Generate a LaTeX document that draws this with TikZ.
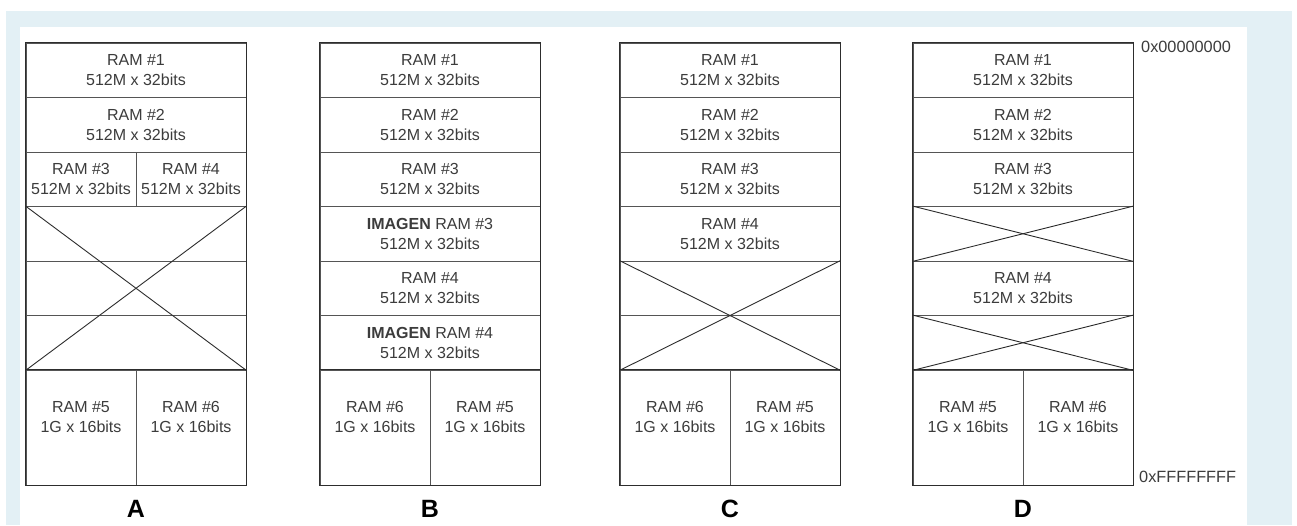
\documentclass[tikz,border=0pt]{standalone}
\usepackage{fontspec}
\setmainfont{Liberation Sans}
\definecolor{bgblue}{RGB}{227,240,245}
\definecolor{linec}{RGB}{85,85,85}
\definecolor{darkline}{RGB}{45,45,45}
\definecolor{txtc}{RGB}{60,60,60}
\begin{document}
\begin{tikzpicture}[x=1pt,y=-1pt,
  cell/.style={draw=linec, line width=0.8pt, minimum width=220pt, minimum height=54.5pt, inner sep=0pt,
    text=txtc, align=center, font=\fontsize{16}{20}\selectfont},
  half/.style={cell, minimum width=110pt},
  low/.style={cell, minimum width=110pt, minimum height=115pt},
  txt/.style={text=txtc, align=center, inner sep=0pt, font=\fontsize{16}{20}\selectfont},
  outer/.style={draw=darkline, line width=1.1pt},
  crossl/.style={draw=darkline, line width=0.9pt},
  colname/.style={font=\fontsize{25}{25}\selectfont\bfseries, text=black, inner sep=0pt},
  addr/.style={font=\fontsize{16.3}{18}\selectfont, text=txtc, inner sep=0pt, anchor=west}]
\useasboundingbox (0,0) rectangle (1297,525);
\fill[white] (0,0) rectangle (1297,525);
\fill[bgblue] (6,11) rectangle (1292,525);
\fill[white] (20,27) rectangle (1247,525);

% ---------- A ----------
\node[cell] (a1) at (136,70.25) {RAM \#1\\512M x 32bits};
\node[cell] (a2) at (136,124.75) {RAM \#2\\512M x 32bits};
\node[half] (a3) at (81,179.25) {RAM \#3\\512M x 32bits};
\node[half] (a4) at (191,179.25) {RAM \#4\\512M x 32bits};
\node[cell] (ax1) at (136,233.75) {};
\node[cell] (ax2) at (136,288.25) {};
\node[cell] (ax3) at (136,342.75) {};
\node[low] (a5) at (81,427.5) {};
\node[low] (a6) at (191,427.5) {};
\node[txt] (a5t) at ([yshift=-47pt]a5.north) {RAM \#5\\1G x 16bits};
\node[txt] (a6t) at ([yshift=-47pt]a6.north) {RAM \#6\\1G x 16bits};
\draw[crossl] (ax1.north west) -- (ax3.south east);
\draw[crossl] (ax1.north east) -- (ax3.south west);
\draw[outer] (a5.north west) -- (a6.north east);
\draw[outer] (a1.north west) rectangle (a6.south east);
\node[colname] (la) at (136,509) {A};

% ---------- B ----------
\node[cell] (b1) at (430,70.25) {RAM \#1\\512M x 32bits};
\node[cell] (b2) at (430,124.75) {RAM \#2\\512M x 32bits};
\node[cell] (b3) at (430,179.25) {RAM \#3\\512M x 32bits};
\node[cell] (b4) at (430,233.75) {\textbf{IMAGEN} RAM \#3\\512M x 32bits};
\node[cell] (b5) at (430,288.25) {RAM \#4\\512M x 32bits};
\node[cell] (b6) at (430,342.75) {\textbf{IMAGEN} RAM \#4\\512M x 32bits};
\node[low] (b7) at (375,427.5) {};
\node[low] (b8) at (485,427.5) {};
\node[txt] (b7t) at ([yshift=-47pt]b7.north) {RAM \#6\\1G x 16bits};
\node[txt] (b8t) at ([yshift=-47pt]b8.north) {RAM \#5\\1G x 16bits};
\draw[outer] (b7.north west) -- (b8.north east);
\draw[outer] (b1.north west) rectangle (b8.south east);
\node[colname] (lb) at (430,509) {B};

% ---------- C ----------
\node[cell] (c1) at (730,70.25) {RAM \#1\\512M x 32bits};
\node[cell] (c2) at (730,124.75) {RAM \#2\\512M x 32bits};
\node[cell] (c3) at (730,179.25) {RAM \#3\\512M x 32bits};
\node[cell] (c4) at (730,233.75) {RAM \#4\\512M x 32bits};
\node[cell] (cx1) at (730,288.25) {};
\node[cell] (cx2) at (730,342.75) {};
\node[low] (c5) at (675,427.5) {};
\node[low] (c6) at (785,427.5) {};
\node[txt] (c5t) at ([yshift=-47pt]c5.north) {RAM \#6\\1G x 16bits};
\node[txt] (c6t) at ([yshift=-47pt]c6.north) {RAM \#5\\1G x 16bits};
\draw[crossl] (cx1.north west) -- (cx2.south east);
\draw[crossl] (cx1.north east) -- (cx2.south west);
\draw[outer] (c5.north west) -- (c6.north east);
\draw[outer] (c1.north west) rectangle (c6.south east);
\node[colname] (lc) at (730,509) {C};

% ---------- D ----------
\node[cell] (d1) at (1023,70.25) {RAM \#1\\512M x 32bits};
\node[cell] (d2) at (1023,124.75) {RAM \#2\\512M x 32bits};
\node[cell] (d3) at (1023,179.25) {RAM \#3\\512M x 32bits};
\node[cell] (dx1) at (1023,233.75) {};
\node[cell] (d4) at (1023,288.25) {RAM \#4\\512M x 32bits};
\node[cell] (dx2) at (1023,342.75) {};
\node[low] (d5) at (968,427.5) {};
\node[low] (d6) at (1078,427.5) {};
\node[txt] (d5t) at ([yshift=-47pt]d5.north) {RAM \#5\\1G x 16bits};
\node[txt] (d6t) at ([yshift=-47pt]d6.north) {RAM \#6\\1G x 16bits};
\draw[crossl] (dx1.north west) -- (dx1.south east);
\draw[crossl] (dx1.north east) -- (dx1.south west);
\draw[crossl] (dx2.north west) -- (dx2.south east);
\draw[crossl] (dx2.north east) -- (dx2.south west);
\draw[outer] (d5.north west) -- (d6.north east);
\draw[outer] (d1.north west) rectangle (d6.south east);
\node[colname] (ld) at (1023,509) {D};

% ---------- addresses ----------
\node[addr] (top) at (1141,47) {0x00000000};
\node[addr] (bot) at (1139,477) {0xFFFFFFFF};
\end{tikzpicture}
\end{document}
